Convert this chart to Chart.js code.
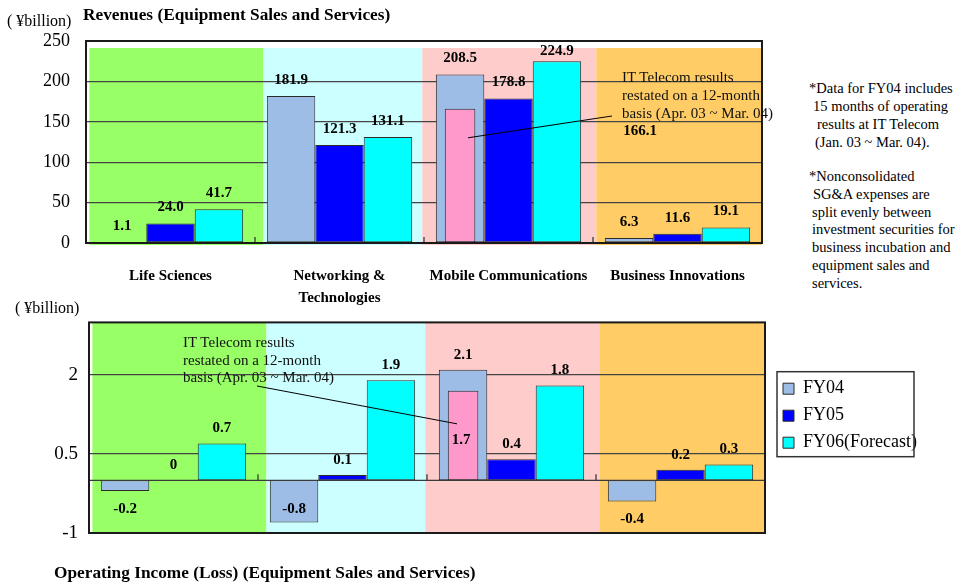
<!DOCTYPE html>
<html lang="en">
<head>
<meta charset="UTF-8">
<title>Equipment Sales and Services</title>
<script src="https://cdn.jsdelivr.net/npm/chart.js"></script>
<style>
    body { margin: 0; background: #fff; font-family: "Liberation Serif", "Times New Roman", serif; color: #000; }
    #page { position: relative; width: 959px; height: 586px; overflow: hidden; }
    .box { position: absolute; }
    .txt { position: absolute; white-space: nowrap; }
    .unit { font-size: 16px; line-height: 20px; }
    .title { font-size: 17.3px; font-weight: bold; line-height: 20px; }
    .callout { font-size: 15px; color: #111; }
    .side { font-size: 14.5px; line-height: 18px; }
</style>
</head>
<body>
<div id="page">
    <div class="box" style="left:0;top:0;width:780px;height:310px"><canvas id="revenueChart"></canvas></div>
    <div class="box" style="left:0;top:300px;width:959px;height:286px"><canvas id="incomeChart"></canvas></div>

    <div class="txt unit" style="left:7px;top:11px">( ¥billion)</div>
    <div class="txt title" style="left:83px;top:5px">Revenues (Equipment Sales and Services)</div>
    <div class="txt callout" style="left:622px;top:68px;line-height:18px">IT Telecom results<br>restated on a 12-month<br>basis (Apr. 03 ~ Mar. 04)</div>

    <div class="txt side" style="left:809px;top:79px">*Data for FY04 includes</div>
    <div class="txt side" style="left:813px;top:97px">15 months of operating</div>
    <div class="txt side" style="left:817px;top:115px">results at IT Telecom</div>
    <div class="txt side" style="left:815px;top:133px">(Jan. 03 ~ Mar. 04).</div>
    <div class="txt side" style="left:809px;top:167px">*Nonconsolidated</div>
    <div class="txt side" style="left:813px;top:185px">SG&amp;A expenses are</div>
    <div class="txt side" style="left:812px;top:203px">split evenly between</div>
    <div class="txt side" style="left:812px;top:220px">investment securities for</div>
    <div class="txt side" style="left:812px;top:238px">business incubation and</div>
    <div class="txt side" style="left:812px;top:256px">equipment sales and</div>
    <div class="txt side" style="left:812px;top:274px">services.</div>

    <div class="txt unit" style="left:15px;top:298px">( ¥billion)</div>
    <div class="txt callout" style="left:183px;top:334px;line-height:17.5px">IT Telecom results<br>restated on a 12-month<br>basis (Apr. 03 ~ Mar. 04)</div>
    <div class="txt title" style="left:54px;top:563px">Operating Income (Loss) (Equipment Sales and Services)</div>
</div>

<script>
    const segments = ['Life Sciences', ['Networking &', 'Technologies'], 'Mobile Communications', 'Business Innovations'];
    const seriesNames = ['FY04', 'FY05', 'FY06(Forecast)'];

    const revenueFY04 = [1.1, 181.9, 208.5, 6.3];
    const revenueFY05 = [24.0, 121.3, 178.8, 11.6];
    const revenueFY06 = [41.7, 131.1, 224.9, 19.1];
    const revenueRestated = [null, null, 166.1, null];   // IT Telecom on a 12-month basis
    const revenueTicks = [0, 50, 100, 150, 200, 250];

    const incomeFY04 = [-0.2, -0.8, 2.1, -0.4];
    const incomeFY05 = [0, 0.1, 0.4, 0.2];
    const incomeFY06 = [0.7, 1.9, 1.8, 0.3];
    const incomeRestated = [null, null, 1.7, null];
    const incomeTicks = [-1, 0.5, 2];

    const serif = 'Liberation Serif';
    const barColors = ['#9DBDE6', '#0000FF', '#00FFFF'];
    const restatedColor = '#FF99CC';
    const bandColors = ['#99FF66', '#CCFFFF', '#FFCCCC', '#FFCC66'];
    // band edges in category units, the slide's bands don't sit exactly on the ticks
    const bandEdges = [-0.48, 0.55, 1.49, 2.52, 3.5];

    function catPixel(x, v) {
        const p0 = x.getPixelForValue(0), p1 = x.getPixelForValue(1);
        return p0 + (p1 - p0) * v;
    }

    const decor = {
        id: 'decor',
        afterLayout(chart, args, opts) {
            const lg = chart.legend;
            if (!opts.legendShift || !lg) return;
            lg.left += opts.legendShift[0]; lg.right += opts.legendShift[0];
            lg.top += opts.legendShift[1]; lg.bottom += opts.legendShift[1];
        },
        beforeDraw(chart, args, opts) {
            const {ctx, chartArea: a, scales: {x}} = chart;
            ctx.save();
            bandColors.forEach((c, i) => {
                const l = catPixel(x, bandEdges[i]), r = catPixel(x, bandEdges[i + 1]);
                ctx.fillStyle = c;
                ctx.fillRect(l, a.top + opts.bandTop, r - l, a.bottom + opts.bandBottom - a.top - opts.bandTop);
            });
            ctx.restore();
        },
        afterDatasetsDraw(chart, args, opts) {
            const {ctx, chartArea: a, scales: {x, y}} = chart;
            ctx.save();

            // zero line and the little tick marks between segments
            const y0 = y.getPixelForValue(0);
            ctx.strokeStyle = '#3a3a3a';
            ctx.lineWidth = 1.3;
            ctx.beginPath();
            ctx.moveTo(a.left, y0);
            ctx.lineTo(a.right, y0);
            for (let i = 0; i < segments.length - 1; i++) {
                const px = catPixel(x, i + 0.5);
                ctx.moveTo(px, y0);
                ctx.lineTo(px, y0 - 6);
            }
            ctx.stroke();

            // plot frame
            ctx.strokeStyle = '#1a1a1a';
            ctx.lineWidth = 2;
            ctx.strokeRect(a.left, a.top, a.right - a.left, a.bottom - a.top);

            // callout line to the restated bar
            const pink = chart.getDatasetMeta(3).data[2];
            ctx.strokeStyle = '#000';
            ctx.lineWidth = 1;
            ctx.beginPath();
            ctx.moveTo(pink.x + opts.call[0], pink.y + opts.call[1]);
            ctx.lineTo(opts.call[2], opts.call[3]);
            ctx.stroke();

            // value labels
            ctx.font = 'bold 15px "' + serif + '"';
            ctx.fillStyle = '#000';
            ctx.textAlign = 'center';
            ctx.textBaseline = 'middle';
            chart.data.datasets.forEach((ds, di) => {
                chart.getDatasetMeta(di).data.forEach((bar, i) => {
                    const v = ds.data[i];
                    if (v === null) return;
                    let cx = bar.x;
                    let cy = v < 0 ? bar.y + opts.below : bar.y - opts.above;
                    cy = Math.max(cy, a.top + 10);
                    const mv = opts.moves.find(m => m[0] === di && m[1] === i);
                    if (mv) { cx += mv[2]; cy += mv[3]; }
                    ctx.fillText(opts.fmt(v), cx, cy);
                });
            });
            ctx.restore();
        },
        afterDraw(chart) {
            const lg = chart.legend;
            if (!lg || !lg.options.display) return;
            const hb = lg.legendHitBoxes;
            const ctx = chart.ctx;
            const left = Math.min(...hb.map(h => h.left)) - 6;
            const right = Math.max(...hb.map(h => h.left + h.width)) - 3;
            const top = hb[0].top - 8;
            const last = hb[hb.length - 1];
            const bottom = last.top + last.height + 5;
            ctx.save();
            ctx.strokeStyle = '#333';
            ctx.lineWidth = 1.5;
            ctx.strokeRect(left, top, right - left, bottom - top);
            ctx.restore();
        }
    };

    function makeDatasets(fy04, fy05, fy06, restated) {
        return [
            { label: seriesNames[0], data: fy04, backgroundColor: barColors[0], stack: 'fy04' },
            { label: seriesNames[1], data: fy05, backgroundColor: barColors[1], stack: 'fy05' },
            { label: seriesNames[2], data: fy06, backgroundColor: barColors[2], stack: 'fy06' },
            // shares the FY04 slot, drawn on top of it
            { label: 'restated', data: restated, backgroundColor: restatedColor, stack: 'fy04', barPercentage: 0.63, order: -1 }
        ];
    }

    const barStyle = {
        borderColor: '#2b2b2b',
        borderWidth: 1,
        borderSkipped: false,
        categoryPercentage: 0.86,
        barPercentage: 1
    };

    new Chart(document.getElementById('revenueChart'), {
        type: 'bar',
        data: { labels: segments, datasets: makeDatasets(revenueFY04, revenueFY05, revenueFY06, revenueRestated) },
        options: {
            responsive: true,
            maintainAspectRatio: false,
            animation: false,
            layout: { padding: { top: 41, right: 18, left: 0, bottom: 0 } },
            datasets: { bar: barStyle },
            scales: {
                x: {
                    grid: { display: false },
                    border: { display: false },
                    ticks: { color: '#000', padding: 14, font: { family: serif, size: 15, weight: 'bold', lineHeight: 1.45 } },
                    afterFit: s => { s.height = 67; }
                },
                y: {
                    min: 0, max: 250, stacked: false,
                    afterBuildTicks: s => { s.ticks = revenueTicks.map(v => ({ value: v })); },
                    grid: { color: '#444', lineWidth: 1.3, drawTicks: false },
                    border: { display: false },
                    ticks: { color: '#000', padding: 16, font: { family: serif, size: 18 } },
                    afterFit: s => { s.width = 86; }
                }
            },
            plugins: {
                legend: { display: false },
                tooltip: { enabled: false },
                decor: {
                    bandTop: 7, bandBottom: 2,
                    above: 16, below: 18,
                    call: [8, 29, 612, 116],
                    moves: [[3, 2, 180, 38]],
                    fmt: v => v.toFixed(1)
                }
            }
        },
        plugins: [decor]
    });

    new Chart(document.getElementById('incomeChart'), {
        type: 'bar',
        data: { labels: segments, datasets: makeDatasets(incomeFY04, incomeFY05, incomeFY06, incomeRestated) },
        options: {
            responsive: true,
            maintainAspectRatio: false,
            animation: false,
            layout: { padding: { top: 20, right: 44, left: 0, bottom: 0 } },
            datasets: { bar: barStyle },
            scales: {
                x: {
                    grid: { display: false },
                    border: { display: false },
                    ticks: { display: false },
                    afterFit: s => { s.height = 53; }
                },
                y: {
                    min: -1, max: 3, stacked: false,
                    afterBuildTicks: s => { s.ticks = incomeTicks.map(v => ({ value: v })); },
                    grid: { color: '#444', lineWidth: 1.3, drawTicks: false },
                    border: { display: false },
                    ticks: { color: '#000', padding: 11, font: { family: serif, size: 19 } },
                    afterFit: s => { s.width = 89; }
                }
            },
            plugins: {
                legend: {
                    display: true,
                    position: 'right',
                    align: 'center',
                    fullSize: false,
                    maxWidth: 150,
                    labels: {
                        boxWidth: 11, boxHeight: 11, padding: 9, color: '#000',
                        font: { family: serif, size: 18 },
                        filter: item => item.datasetIndex < 3
                    }
                },
                tooltip: { enabled: false },
                decor: {
                    legendShift: [9, -12],
                    bandTop: 0, bandBottom: 0,
                    above: 15, below: 18,
                    call: [-6, 33, 257, 86],
                    moves: [[0, 1, 0, -31], [3, 2, -2, 64]],
                    fmt: v => v === 0 ? '0' : v.toFixed(1)
                }
            }
        },
        plugins: [decor]
    });
</script>
</body>
</html>
